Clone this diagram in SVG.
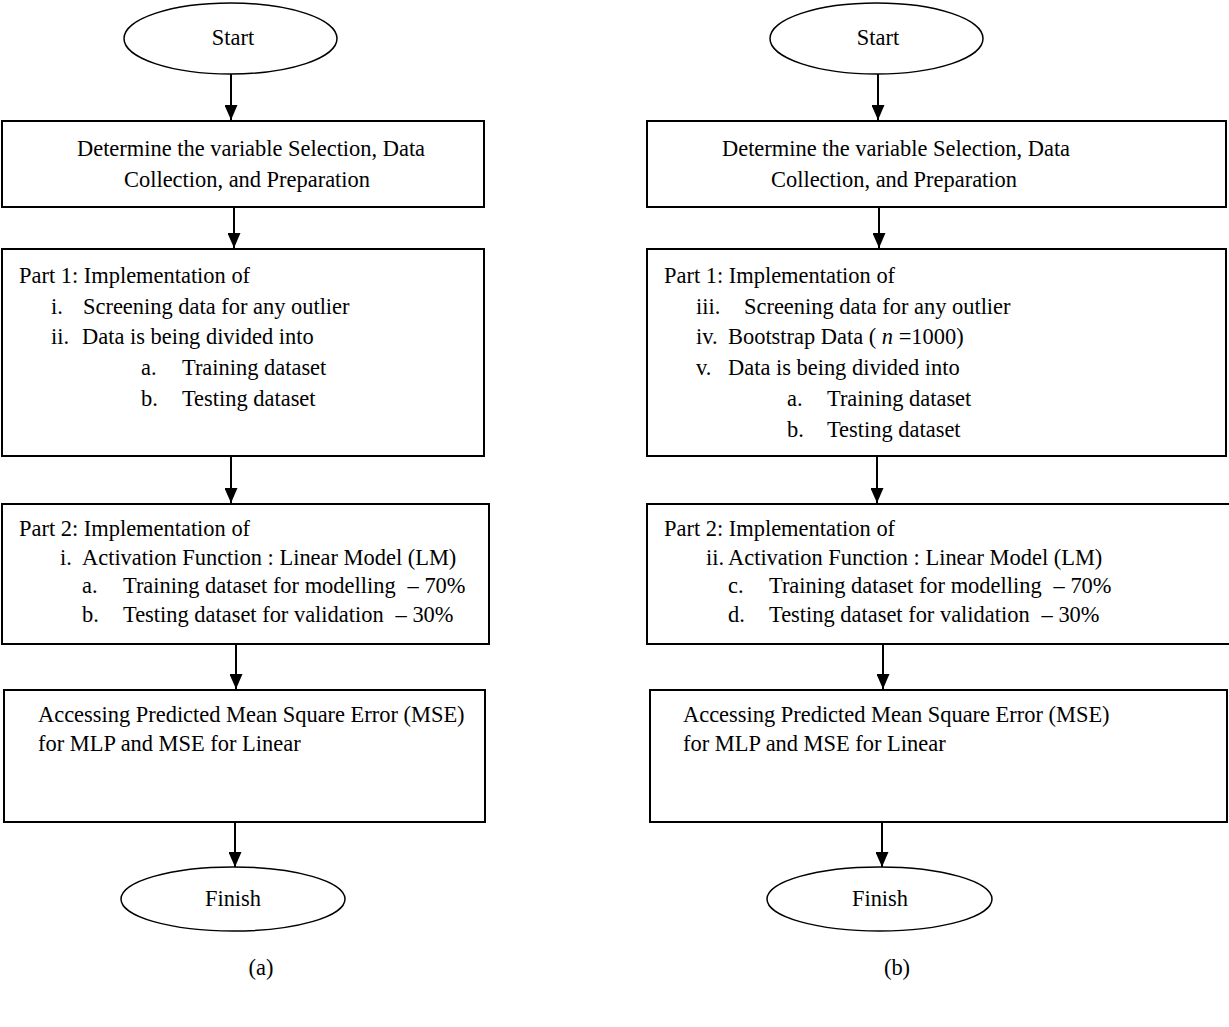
<svg xmlns="http://www.w3.org/2000/svg" width="1229" height="1027" viewBox="0 0 1229 1027">
<style>
  text { font-family: "Liberation Serif", "Times New Roman", serif; font-size: 24px; fill: #000;
         transform-box: fill-box; transform-origin: 0 0; transform: scaleX(0.935); }
  text.c { text-anchor: middle; transform-origin: 50% 0; }
  .box { fill: #fff; stroke: #000; stroke-width: 2; }
  .term { fill: #fff; stroke: #000; stroke-width: 1.5; }
  .edge { fill: none; stroke: #000; stroke-width: 2; marker-end: url(#arr); }
</style>
<defs>
  <marker id="arr" markerUnits="userSpaceOnUse" markerWidth="15" markerHeight="13" refX="15" refY="6.5" orient="auto">
    <path d="M0,0 L15,6.5 L0,13 z" fill="#000"/>
  </marker>
</defs>
<rect x="0" y="0" width="1229" height="1027" fill="#fff"/>

<g id="connectors">
  <line class="edge" x1="231" y1="74" x2="231" y2="120"/>
  <line class="edge" x1="234" y1="207" x2="234" y2="248"/>
  <line class="edge" x1="231" y1="456" x2="231" y2="503"/>
  <line class="edge" x1="236" y1="644" x2="236" y2="689"/>
  <line class="edge" x1="235" y1="822" x2="235" y2="867"/>
  <line class="edge" x1="878" y1="74" x2="878" y2="120"/>
  <line class="edge" x1="879" y1="207" x2="879" y2="248"/>
  <line class="edge" x1="877" y1="456" x2="877" y2="503"/>
  <line class="edge" x1="883" y1="644" x2="883" y2="689"/>
  <line class="edge" x1="882" y1="822" x2="882" y2="867"/>
</g>

<!-- Panel (a) -->
<g id="a-start">
  <ellipse class="term" cx="230.5" cy="38.5" rx="106.5" ry="35.5"/>
  <text class="c" x="233" y="45">Start</text>
</g>
<g id="a-determine">
  <rect class="box" x="2" y="121" width="482" height="86"/>
  <text x="77" y="156">Determine the variable Selection, Data</text>
  <text x="124" y="187">Collection, and Preparation</text>
</g>
<g id="a-part1">
  <rect class="box" x="2" y="249" width="482" height="207"/>
  <text x="19" y="283">Part 1: Implementation of</text>
  <text x="51" y="314">i.</text><text x="83" y="314">Screening data for any outlier</text>
  <text x="51" y="344">ii.</text><text x="82" y="344">Data is being divided into</text>
  <text x="141" y="375">a.</text><text x="182" y="375">Training dataset</text>
  <text x="141" y="406">b.</text><text x="182" y="406">Testing dataset</text>
</g>
<g id="a-part2">
  <rect class="box" x="2" y="504" width="487" height="140"/>
  <text x="19" y="536">Part 2: Implementation of</text>
  <text x="60" y="565">i.</text><text x="82" y="565">Activation Function : Linear Model (LM)</text>
  <text x="82" y="593">a.</text><text x="123" y="593">Training dataset for modelling<tspan dx="12.8">– 70%</tspan></text>
  <text x="82" y="622">b.</text><text x="123" y="622">Testing dataset for validation<tspan dx="12.8">– 30%</tspan></text>
</g>
<g id="a-mse">
  <rect class="box" x="4" y="690" width="481" height="132"/>
  <text x="38" y="722">Accessing Predicted Mean Square Error (MSE)</text>
  <text x="38" y="751">for MLP and MSE for Linear</text>
</g>
<g id="a-finish">
  <ellipse class="term" cx="233" cy="899" rx="112" ry="32"/>
  <text class="c" x="233" y="906">Finish</text>
</g>
<text class="c" x="261" y="975">(a)</text>

<!-- Panel (b) -->
<g id="b-start">
  <ellipse class="term" cx="876.5" cy="38.5" rx="106.5" ry="35.5"/>
  <text class="c" x="878" y="45">Start</text>
</g>
<g id="b-determine">
  <rect class="box" x="647" y="121" width="579" height="86"/>
  <text x="722" y="156">Determine the variable Selection, Data</text>
  <text x="771" y="187">Collection, and Preparation</text>
</g>
<g id="b-part1">
  <rect class="box" x="647" y="249" width="579" height="207"/>
  <text x="664" y="283">Part 1: Implementation of</text>
  <text x="696" y="314">iii.</text><text x="744" y="314">Screening data for any outlier</text>
  <text x="696" y="344">iv.</text><text x="728" y="344">Bootstrap Data ( <tspan font-style="italic">n</tspan> =1000)</text>
  <text x="696" y="375">v.</text><text x="728" y="375">Data is being divided into</text>
  <text x="787" y="406">a.</text><text x="827" y="406">Training dataset</text>
  <text x="787" y="437">b.</text><text x="827" y="437">Testing dataset</text>
</g>
<g id="b-part2">
  <rect class="box" x="647" y="504" width="590" height="140"/>
  <text x="664" y="536">Part 2: Implementation of</text>
  <text x="706" y="565">ii.</text><text x="728" y="565">Activation Function : Linear Model (LM)</text>
  <text x="728" y="593">c.</text><text x="769" y="593">Training dataset for modelling<tspan dx="12.8">– 70%</tspan></text>
  <text x="728" y="622">d.</text><text x="769" y="622">Testing dataset for validation<tspan dx="12.8">– 30%</tspan></text>
</g>
<g id="b-mse">
  <rect class="box" x="650" y="690" width="577" height="132"/>
  <text x="683" y="722">Accessing Predicted Mean Square Error (MSE)</text>
  <text x="683" y="751">for MLP and MSE for Linear</text>
</g>
<g id="b-finish">
  <ellipse class="term" cx="879.5" cy="899" rx="112.5" ry="32"/>
  <text class="c" x="880" y="906">Finish</text>
</g>
<text class="c" x="897" y="975">(b)</text>
</svg>
